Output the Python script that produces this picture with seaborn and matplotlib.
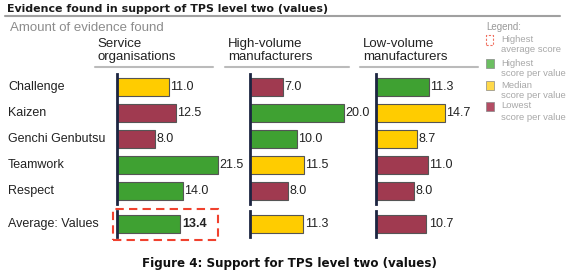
import matplotlib
matplotlib.use("Agg")
import matplotlib.pyplot as plt
import matplotlib.transforms as mtransforms
from matplotlib.patches import Rectangle
import pandas as pd
import seaborn as sns

values = ["Challenge", "Kaizen", "Genchi Genbutsu", "Teamwork", "Respect"]
groups = ["Service\norganisations", "High-volume\nmanufacturers", "Low-volume\nmanufacturers"]
service = [11.0, 12.5, 8.0, 21.5, 14.0]
high_vol = [7.0, 20.0, 10.0, 11.5, 8.0]
low_vol = [11.3, 14.7, 8.7, 11.0, 8.0]
averages = [13.4, 11.3, 10.7]
service_rank = ["median", "lowest", "lowest", "highest", "highest"]
high_vol_rank = ["lowest", "highest", "highest", "median", "lowest"]
low_vol_rank = ["highest", "median", "median", "lowest", "lowest"]
avg_rank = ["highest", "median", "lowest"]

bar_colors = {"highest": "#3FA132", "median": "#FFCC00", "lowest": "#A03A50"}
legend_colors = {"highest": "#6CBF62", "median": "#FFD94A", "lowest": "#B34D64"}

sns.set_theme(style="white")
plt.rcParams["font.family"] = ["Liberation Sans", "DejaVu Sans"]

W, H = 580, 276
fig = plt.figure(figsize=(W / 100, H / 100), dpi=100)


def box(x0, y0, w, h):
    # pixel box (top-left origin) -> figure fraction
    return [x0 / W, (H - y0 - h) / H, w / W, h / H]


def fx(x):
    return x / W


def fy(y):
    return (H - y) / H


series = [service, high_vol, low_vol]
ranks = [service_rank, high_vol_rank, low_vol_rank]
lefts = [117, 250, 376]
scale = 4.7
axw = 110
spine_col = "#1C2541"

for i in range(3):
    df = pd.DataFrame({"value": values, "score": series[i], "rank": ranks[i]})
    ax = fig.add_axes(box(lefts[i], 74, axw, 130))
    sns.barplot(data=df, x="score", y="value", hue="rank", palette=bar_colors,
                dodge=False, width=0.7, orient="h", legend=False, ax=ax, saturation=1,
                edgecolor="#555555", linewidth=0.8)
    ax.set_xlim(0, axw / scale)
    ax.set_ylim(4.5, -0.5)
    for j, v in enumerate(series[i]):
        ax.text(v + 0.3, j, f"{v:.1f}", va="center", ha="left", fontsize=9, color="#222222")
    if i == 0:
        tr = mtransforms.blended_transform_factory(fig.transFigure, ax.transData)
        for j, name in enumerate(values):
            ax.text(fx(8), j, name, transform=tr, va="center", ha="left", fontsize=9, color="#222222")

    dfa = pd.DataFrame({"value": ["Average: Values"], "score": [averages[i]], "rank": [avg_rank[i]]})
    axa = fig.add_axes(box(lefts[i], 211, axw, 26))
    sns.barplot(data=dfa, x="score", y="value", hue="rank", palette=bar_colors,
                dodge=False, width=0.7, orient="h", legend=False, ax=axa, saturation=1,
                edgecolor="#555555", linewidth=0.8)
    axa.set_xlim(0, axw / scale)
    axa.set_ylim(0.5, -0.5)
    axa.text(averages[i] + 0.5, 0, f"{averages[i]:.1f}", va="center", ha="left", fontsize=9,
             color="#222222", fontweight="bold" if i == 0 else "normal")
    if i == 0:
        tr = mtransforms.blended_transform_factory(fig.transFigure, axa.transData)
        axa.text(fx(8), 0, "Average: Values", transform=tr, va="center", ha="left",
                 fontsize=9, color="#222222")

    for a in (ax, axa):
        a.set_xlabel("")
        a.set_ylabel("")
        a.set_xticks([])
        a.set_yticks([])
        for s in ["top", "right", "bottom"]:
            a.spines[s].set_visible(False)
        a.spines["left"].set_color(spine_col)
        a.spines["left"].set_linewidth(2)
        a.patch.set_alpha(0)

# group headings and their rules
heads_x = [97, 228, 363]
rule_spans = [(95, 213), (225, 349), (360, 478)]
for hx, (r0, r1), g in zip(heads_x, rule_spans, groups):
    fig.text(fx(hx), fy(50.5), g, ha="left", va="center", fontsize=9.5, color="#222222",
             linespacing=1.15)
    fig.add_artist(plt.Line2D([fx(r0), fx(r1)], [fy(67), fy(67)], color="#BBBBBB", lw=1.5))

# title
fig.text(fx(7), fy(9), "Evidence found in support of TPS level two (values)", ha="left", va="center",
         fontsize=7.9, fontweight="bold", color="#1a1a1a", family="DejaVu Sans")
fig.add_artist(plt.Line2D([fx(5), fx(560)], [fy(16), fy(16)], color="#A0A0A0", lw=1.5))
fig.text(fx(10), fy(28), "Amount of evidence found", ha="left", va="center", fontsize=9.5,
         color="#8C8C8C")

# caption
fig.text(fx(289), fy(263), "Figure 4: Support for TPS level two (values)", ha="center", va="center",
         fontsize=8.6, fontweight="bold", color="#111111", family="DejaVu Sans")

# highlight box around the highest average
fig.add_artist(Rectangle((fx(113), fy(240)), fx(218) - fx(113), fy(209) - fy(240),
                         transform=fig.transFigure, fill=False, ec="#F0412E", lw=1.5,
                         ls=(0, (4, 2.5))))

# legend
lg = "#A8A8A8"
fig.text(fx(486), fy(27), "Legend:", ha="left", va="center", fontsize=7, color="#999999")
fig.add_artist(Rectangle((fx(486), fy(45)), fx(7), 10 / H, transform=fig.transFigure,
                         fill=False, ec="#F07060", lw=0.8, ls=(0, (2, 1.5))))
items = [(None, "Highest", "average score", 39, 50),
         ("highest", "Highest", "score per value", 63, 74),
         ("median", "Median", "score per value", 85, 95),
         ("lowest", "Lowest", "score per value", 106, 117)]
for key, l1, l2, y1, y2 in items:
    if key is not None:
        fig.add_artist(Rectangle((fx(486), fy(y1 + 5)), fx(8), 9 / H, transform=fig.transFigure,
                                 fc=legend_colors[key], ec="#888888", lw=0.5))
    fig.text(fx(501), fy(y1), l1, ha="left", va="center", fontsize=6.8, color=lg)
    fig.text(fx(501), fy(y2), l2, ha="left", va="center", fontsize=6.8, color=lg)

fig.savefig("out.png", dpi=100)
